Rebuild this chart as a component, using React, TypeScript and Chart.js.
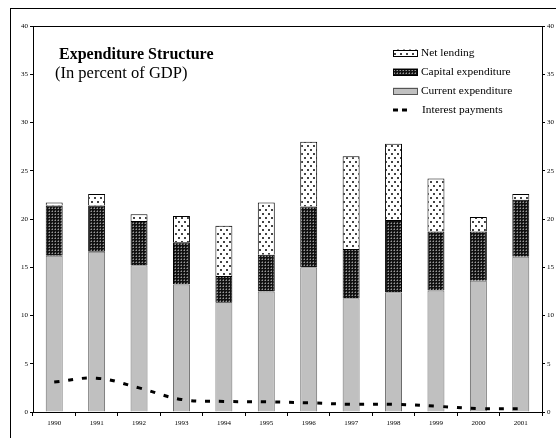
import React, { useEffect, useRef } from "react";
import { Chart, registerables } from "chart.js";

Chart.register(...registerables);

// Fiscal expenditure, percent of GDP
const years = ["1990", "1991", "1992", "1993", "1994", "1995", "1996", "1997", "1998", "1999", "2000", "2001"];
const currentExpenditure = [16.2, 16.6, 15.2, 13.2, 11.4, 12.5, 15.0, 11.8, 12.4, 12.6, 13.6, 16.1];
const capitalExpenditure = [5.2, 4.8, 4.6, 4.4, 2.7, 3.8, 6.3, 5.1, 7.5, 6.1, 5.1, 5.9];
const netLending = [0.3, 1.2, 0.7, 2.7, 5.2, 5.4, 6.7, 9.6, 7.9, 5.5, 1.5, 0.6];
const interestPayments = [3.1, 3.5, 2.5, 1.3, 1.1, 1.05, 0.95, 0.8, 0.8, 0.6, 0.35, 0.35];

const axisTicks = [0, 5, 10, 15, 20, 25, 30, 35, 40];

const SERIF = "'Liberation Serif', 'Times New Roman', serif";

function makeCapitalPattern(ctx: CanvasRenderingContext2D): CanvasPattern | string {
  const tile = document.createElement("canvas");
  tile.width = 3;
  tile.height = 3;
  const t = tile.getContext("2d");
  if (!t) return "#222";
  t.fillStyle = "#111";
  t.fillRect(0, 0, 3, 3);
  t.fillStyle = "#9a9a9a";
  t.fillRect(1, 1, 1, 1);
  t.fillStyle = "#555";
  t.fillRect(0, 1, 1, 1);
  t.fillRect(1, 0, 1, 1);
  return ctx.createPattern(tile, "repeat") || "#222";
}

function makeLendingPattern(ctx: CanvasRenderingContext2D): CanvasPattern | string {
  const tile = document.createElement("canvas");
  tile.width = 6;
  tile.height = 8;
  const t = tile.getContext("2d");
  if (!t) return "#fff";
  t.fillStyle = "#fff";
  t.fillRect(0, 0, 6, 8);
  t.fillStyle = "#444";
  t.fillRect(1, 1, 2, 2);
  t.fillRect(4, 5, 2, 2);
  return ctx.createPattern(tile, "repeat") || "#fff";
}

export default function App() {
  const canvasRef = useRef<HTMLCanvasElement | null>(null);

  useEffect(() => {
    const canvas = canvasRef.current;
    if (!canvas) return;
    const ctx = canvas.getContext("2d");
    if (!ctx) return;

    const capitalFill = makeCapitalPattern(ctx);
    const lendingFill = makeLendingPattern(ctx);

    const decorations = {
      id: "decorations",
      afterDraw(chart: any) {
        const c: CanvasRenderingContext2D = chart.ctx;
        const area = chart.chartArea;
        c.save();

        // outer frame
        c.strokeStyle = "#000";
        c.lineWidth = 1;
        c.strokeRect(10.5, 8.5, 560, 440);

        // top edge of the plot box
        c.beginPath();
        c.moveTo(area.left, Math.round(area.top) + 0.5);
        c.lineTo(area.right, Math.round(area.top) + 0.5);
        c.stroke();

        // title
        c.fillStyle = "#000";
        c.textBaseline = "middle";
        c.textAlign = "left";
        c.font = `bold 16px ${SERIF}`;
        c.fillText("Expenditure Structure", 59, 55);
        c.font = `16.5px ${SERIF}`;
        c.fillText("(In percent of GDP)", 55, 74);

        // legend
        const sx = 393;
        const sw = 25;
        const sh = 7;
        const rows = [
          { label: "Net lending", fill: lendingFill, stroke: "#000", y: 53 },
          { label: "Capital expenditure", fill: capitalFill, stroke: "#000", y: 72 },
          { label: "Current expenditure", fill: "#c0c0c0", stroke: "#555", y: 91 },
        ];
        c.font = `11.4px ${SERIF}`;
        rows.forEach((r) => {
          c.fillStyle = r.fill as any;
          c.fillRect(sx, r.y - sh / 2, sw, sh);
          c.strokeStyle = r.stroke;
          c.lineWidth = 1;
          c.strokeRect(sx + 0.5, Math.round(r.y - sh / 2) + 0.5, sw - 1, sh - 1);
          c.fillStyle = "#000";
          c.fillText(r.label, sx + sw + 3, r.y);
        });
        // interest payments sample
        c.fillStyle = "#000";
        c.fillRect(sx, 108.5, 5, 3);
        c.fillRect(sx + 9, 108.5, 5, 3);
        c.fillText("Interest payments", sx + sw + 4, 110);

        c.restore();
      },
    };

    const tickFont = { family: SERIF, size: 7 };

    const chart = new Chart(ctx, {
      type: "bar",
      data: {
        labels: years,
        datasets: [
          {
            type: "line",
            label: "Interest payments",
            data: interestPayments,
            borderColor: "#000",
            borderWidth: 3,
            borderDash: [5, 9],
            borderCapStyle: "butt",
            tension: 0.4,
            pointRadius: 0,
            fill: false,
            stack: "interest",
            order: 0,
          } as any,
          {
            label: "Current expenditure",
            data: currentExpenditure,
            backgroundColor: "#c0c0c0",
            borderColor: "#6a6a6a",
            borderWidth: 1,
            stack: "spending",
            order: 1,
          },
          {
            label: "Capital expenditure",
            data: capitalExpenditure,
            backgroundColor: capitalFill as any,
            borderColor: "#000",
            borderWidth: 1,
            stack: "spending",
            order: 1,
          },
          {
            label: "Net lending",
            data: netLending,
            backgroundColor: lendingFill as any,
            borderColor: "#000",
            borderWidth: 1,
            stack: "spending",
            order: 1,
          },
        ],
      },
      options: {
        responsive: false,
        animation: false,
        events: [],
        layout: { padding: { top: 26, left: 0, right: 0, bottom: 0 } },
        datasets: {
          bar: { barPercentage: 0.4, categoryPercentage: 1 },
        },
        plugins: {
          legend: { display: false },
          title: { display: false },
          tooltip: { enabled: false },
        },
        scales: {
          x: {
            stacked: true,
            offset: true,
            grid: {
              display: true,
              drawOnChartArea: false,
              drawTicks: true,
              tickLength: 4,
              color: "#000",
              offset: true,
            },
            border: { display: true, color: "#000", width: 1 },
            ticks: { color: "#000", font: tickFont, padding: 3, maxRotation: 0, autoSkip: false },
            afterFit: (scale: any) => {
              scale.height = 26;
            },
          },
          y: {
            position: "left",
            stacked: true,
            min: 0,
            max: 40,
            afterBuildTicks: (scale: any) => {
              scale.ticks = axisTicks.map((v) => ({ value: v }));
            },
            grid: { display: true, drawOnChartArea: false, tickLength: 3, color: "#000" },
            border: { display: true, color: "#000", width: 1 },
            ticks: { color: "#000", font: tickFont, padding: 2 },
            afterFit: (scale: any) => {
              scale.width = 33;
            },
          },
          y2: {
            type: "linear",
            position: "right",
            min: 0,
            max: 40,
            afterBuildTicks: (scale: any) => {
              scale.ticks = axisTicks.map((v) => ({ value: v }));
            },
            grid: { display: true, drawOnChartArea: false, tickLength: 3, color: "#000" },
            border: { display: true, color: "#000", width: 1 },
            ticks: { color: "#000", font: tickFont, padding: 2 },
            afterFit: (scale: any) => {
              scale.width = 14;
            },
          },
        },
      } as any,
      plugins: [decorations],
    });

    return () => {
      chart.destroy();
    };
  }, []);

  return (
    <div style={{ position: "absolute", left: 0, top: 0, width: 556, height: 438, background: "#fff" }}>
      <canvas ref={canvasRef} width={556} height={438} style={{ display: "block", width: 556, height: 438 }} />
    </div>
  );
}
